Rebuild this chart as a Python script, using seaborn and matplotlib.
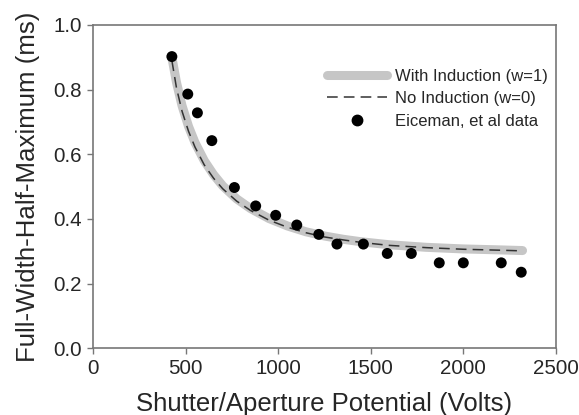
import numpy as np
import pandas as pd
import matplotlib
matplotlib.use('Agg')
import matplotlib.pyplot as plt
import seaborn as sns
from matplotlib.lines import Line2D

# Eiceman et al measured FWHM
volts = [425, 511, 563, 641, 763, 878, 986, 1100, 1219, 1317, 1460, 1589, 1719, 1870, 2000, 2205, 2313]
fwhm = [0.902, 0.786, 0.728, 0.642, 0.497, 0.440, 0.411, 0.381, 0.352, 0.322, 0.322, 0.293, 0.293, 0.264, 0.264, 0.264, 0.235]

# model curves
curve_v = [425, 450, 480, 515, 550, 600, 650, 700, 775, 850, 950, 1050, 1150, 1250, 1350, 1450, 1600, 1800, 2000, 2200, 2320]
with_ind = [0.900, 0.822, 0.750, 0.686, 0.636, 0.580, 0.537, 0.502, 0.462, 0.432, 0.401, 0.378, 0.360, 0.347, 0.337, 0.329, 0.320, 0.312, 0.307, 0.304, 0.302]
no_ind = [0.890, 0.805, 0.733, 0.671, 0.622, 0.567, 0.526, 0.493, 0.455, 0.426, 0.396, 0.374, 0.357, 0.344, 0.335, 0.327, 0.318, 0.311, 0.306, 0.303, 0.301]

curves = pd.DataFrame({'V': curve_v, 'w1': with_ind, 'w0': no_ind})
pts = pd.DataFrame({'V': volts, 'fwhm': fwhm})

sns.set_style('ticks')
plt.rcParams['font.family'] = ['Liberation Sans', 'DejaVu Sans']

fig = plt.figure(figsize=(5.79, 4.15), dpi=100)
ax = fig.add_axes([0.161, 0.161, 0.799, 0.779])

sns.lineplot(data=curves, x='V', y='w1', ax=ax, color='#c6c6c6', lw=6.5,
             solid_capstyle='round', zorder=1)
sns.lineplot(data=curves, x='V', y='w0', ax=ax, color='#333333', lw=1.1,
             zorder=2)
ax.lines[-1].set_dashes((7, 4))
sns.scatterplot(data=pts, x='V', y='fwhm', ax=ax, color='black', s=62,
                edgecolor='none', zorder=3)

ax.set_xlim(0, 2500)
ax.set_ylim(0, 1.0)
ax.set_xticks([0, 500, 1000, 1500, 2000, 2500])
ax.set_yticks([0.0, 0.2, 0.4, 0.6, 0.8, 1.0])
ax.yaxis.set_major_formatter(matplotlib.ticker.FormatStrFormatter('%.1f'))
ax.tick_params(direction='out', length=4, width=1, color='#777777',
               labelsize=14.8, pad=4)
for s in ax.spines.values():
    s.set_visible(True)
    s.set_color('#777777')
    s.set_linewidth(1.2)

ax.set_xlabel('Shutter/Aperture Potential (Volts)', fontsize=18.5, labelpad=10)
ax.set_ylabel('Full-Width-Half-Maximum (ms)', fontsize=18.6, labelpad=10)

handles = [
    Line2D([], [], color='#c6c6c6', lw=6.5, solid_capstyle='round'),
    Line2D([], [], color='#333333', lw=1.1, dashes=(7, 4)),
    Line2D([], [], color='black', marker='o', ls='', markersize=7.5),
]
ax.legend(handles, ['With Induction (w=1)', 'No Induction (w=0)', 'Eiceman, et al data'],
          loc='upper right', bbox_to_anchor=(1.005, 0.896), frameon=False,
          fontsize=12, handlelength=3.6, handletextpad=0.5, labelspacing=0.45,
          borderaxespad=0.2)

fig.savefig('out.png', dpi=100)
